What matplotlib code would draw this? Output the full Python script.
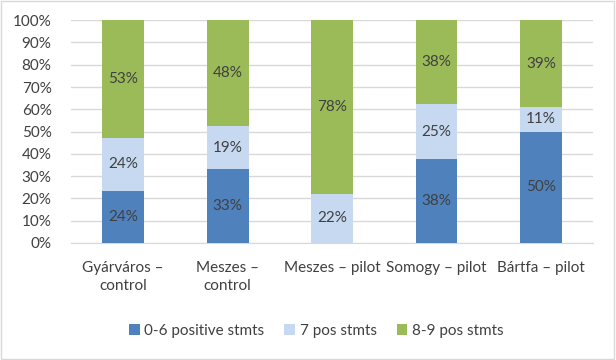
import matplotlib.pyplot as plt
import numpy as np
from matplotlib.ticker import PercentFormatter

plt.rcParams['font.family'] = ['Lato', 'DejaVu Sans']

groups = ['Gyárváros –\ncontrol', 'Meszes –\ncontrol', 'Meszes – pilot', 'Somogy – pilot', 'Bártfa – pilot']
low = [0.235, 0.333, 0.0, 0.375, 0.50]     # 0-6 positive stmts
mid = [0.235, 0.190, 0.222, 0.25, 0.111]   # 7 pos stmts
high = [0.530, 0.477, 0.778, 0.375, 0.389]  # 8-9 pos stmts
series_names = ['0-6 positive stmts', '7 pos stmts', '8-9 pos stmts']
colors = ['#4F81BD', '#C6D9F1', '#9BBB59']

fig = plt.figure(figsize=(6.16, 3.6), dpi=100)
ax = fig.add_axes([0.1153, 0.325, 0.8474, 0.619])

x = np.arange(len(groups))
bottom = np.zeros(len(groups))
for vals, name, c in zip([low, mid, high], series_names, colors):
    vals = np.array(vals)
    bars = ax.bar(x, vals, 0.4, bottom=bottom, color=c, label=name, zorder=3)
    for xi, b, v in zip(x, bottom, vals):
        if v > 0:
            ax.text(xi, b + v / 2, '%d%%' % round(v * 100), ha='center', va='center',
                    fontsize=11, color='#404040', zorder=4)
    bottom += vals

ax.set_xlim(-0.5, 4.5)
ax.set_ylim(0, 1)
ax.set_yticks(np.arange(0, 1.01, 0.1))
ax.yaxis.set_major_formatter(PercentFormatter(1.0, decimals=0))
ax.set_xticks(x)
ax.set_xticklabels(groups, linespacing=1.35)
ax.grid(axis='y', color='#D9D9D9', linewidth=1, zorder=0)
for s in ['top', 'right', 'left']:
    ax.spines[s].set_visible(False)
ax.spines['bottom'].set_color('#D9D9D9')
ax.tick_params(length=0, labelsize=11, colors='#404040')
ax.tick_params(axis='x', pad=13)
ax.tick_params(axis='y', pad=14)

ax.legend(loc='upper center', bbox_to_anchor=(0.47, -0.30), ncol=3, frameon=False,
          fontsize=11, handlelength=0.7, handleheight=0.7, columnspacing=1.3,
          handletextpad=0.3, labelcolor='#404040')

fig.patches.append(plt.Rectangle((0.002, 0.003), 0.995, 0.993, transform=fig.transFigure,
                                 fill=False, edgecolor='#D9D9D9', linewidth=1))

plt.savefig('out.png', dpi=100)
